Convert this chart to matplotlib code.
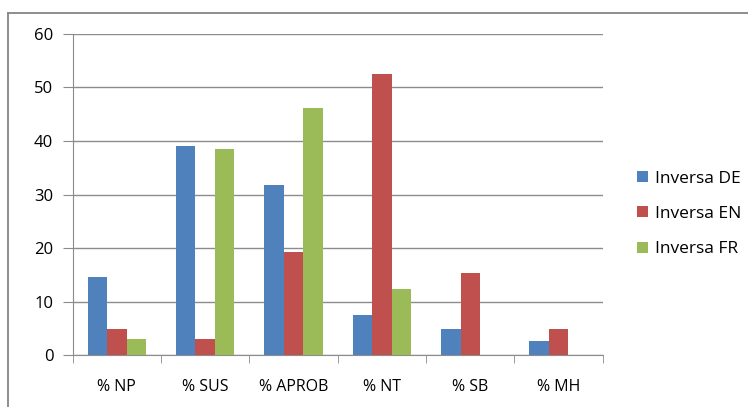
import numpy as np
from matplotlib import pyplot as plt
from matplotlib.lines import Line2D

categories = ["% NP", "% SUS", "% APROB", "% NT", "% SB", "% MH"]
inversa_de = [14.7, 39.0, 31.8, 7.5, 4.9, 2.6]
inversa_en = [5.0, 3.0, 19.2, 52.5, 15.3, 5.0]
inversa_fr = [3.0, 38.5, 46.1, 12.4, 0, 0]
series_names = ["Inversa DE", "Inversa EN", "Inversa FR"]
colors = ["#4F81BD", "#C0504D", "#9BBB59"]

plt.rcParams['font.family'] = ['Open Sans', 'DejaVu Sans']

fig = plt.figure(figsize=(7.48, 4.07), dpi=100)
ax = fig.add_axes([0.0972, 0.127, 0.7086, 0.790])

x = np.arange(len(categories))
w = 0.22
for i, vals in enumerate([inversa_de, inversa_en, inversa_fr]):
    ax.bar(x + (i - 1) * w, vals, w, color=colors[i], label=series_names[i], zorder=3)

ax.set_xlim(-0.5, len(categories) - 0.5)
ax.set_ylim(0, 60)
ax.set_yticks(range(0, 61, 10))
ax.yaxis.grid(True, color="#8c8c8c", linewidth=1.0, zorder=0)

# category labels in the middle, ticks on the boundaries
ax.set_xticks(x)
ax.set_xticklabels(categories)
ax.set_xticks(np.arange(-0.5, len(categories)), minor=True)
ax.tick_params(axis='x', which='major', length=0, pad=17, labelsize=11.5)
ax.tick_params(axis='x', which='minor', length=6, color="#8c8c8c", direction='out')
ax.tick_params(axis='y', length=7, color="#8c8c8c", labelsize=12, pad=7)

for side in ["top", "right"]:
    ax.spines[side].set_visible(False)
ax.spines["left"].set_color("#8c8c8c")
ax.spines["bottom"].set_color("#8c8c8c")

ax.legend(loc="center left", bbox_to_anchor=(0.831, 0.474), bbox_transform=fig.transFigure,
          frameon=False, fontsize=12.5, handlelength=0.6, handleheight=0.6,
          handletextpad=0.45, labelspacing=1.1)

# outer chart frame
fig.add_artist(Line2D([0.0107, 0.0107], [0.0, 0.968], color="#858585", linewidth=1.3))
fig.add_artist(Line2D([0.0107, 1.0], [0.968, 0.968], color="#858585", linewidth=1.3))

plt.savefig("out.png", dpi=100)
